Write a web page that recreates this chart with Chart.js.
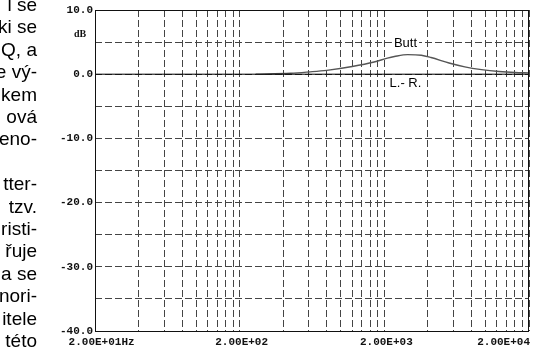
<!DOCTYPE html>
<html>
<head>
<meta charset="utf-8">
<script src="https://cdn.jsdelivr.net/npm/chart.js@4"></script>
<style>
  html, body { margin: 0; padding: 0; background: #fff; overflow: hidden; }
  #wrap { position: absolute; left: 0; top: 0; width: 536px; height: 351px; }
  #text {
    position: absolute; left: -163px; top: -6px; width: 200px;
    font-family: "Liberation Sans", Arial, sans-serif; font-size: 19px; line-height: 22.4px;
    text-align: right; white-space: pre; color: #000;
  }
</style>
</head>
<body>
<div id="wrap"><canvas id="chart" width="536" height="351"></canvas></div>
<div id="text">l se
ki se
Q, a
e vý-
kem
ová
eno-

tter-
tzv.
risti-
řuje
a se
nori-
itele
této</div>
<script>
// frekvence a hodnoty krivky (dB)
const buttFreq = [258, 450, 600, 800, 1200, 1700, 2100, 2350, 2900, 3600, 4200, 5600, 7200, 9400, 12400, 16000, 20000];
const buttDb = [0, 0.15, 0.35, 0.6, 1.2, 1.9, 2.5, 2.75, 3.05, 2.95, 2.6, 1.75, 1.15, 0.72, 0.42, 0.26, 0.2];
const lrFreq = [20, 20000];
const lrDb = [0, 0];

// mrizka a popisky os
const gridFreq = [20, 40, 60, 80, 100, 120, 140, 160, 180, 200, 400, 600, 800, 1000, 1200, 1400, 1600, 1800,
    2000, 4000, 6000, 8000, 10000, 12000, 14000, 16000, 18000, 20000];
const xLabelFreq = [20, 200, 2000, 20000];
const xLabelText = ['2.00E+01Hz', '2.00E+02', '2.00E+03', '2.00E+04'];

const curveNames = [
    { text: 'Butt', f: 2800, db: 4.8, box: true },
    { text: 'L.- R.', f: 2800, db: -1.45, box: false }
];

const pts = (xs, ys) => xs.map((x, i) => ({ x: x, y: ys[i] }));

const decorPlugin = {
    id: 'decor',
    afterDatasetsDraw(chart) {
        const ctx = chart.ctx;
        const a = chart.chartArea;
        const xs = chart.scales.x;
        const ys = chart.scales.y;
        ctx.save();
        // ramecek
        ctx.strokeStyle = '#111';
        ctx.lineWidth = 1;
        ctx.strokeRect(Math.round(a.left) + 0.5, Math.round(a.top) + 0.5,
            Math.round(a.right - a.left) - 1, Math.round(a.bottom - a.top));

        // nazvy krivek
        ctx.font = '13px Arial, "Liberation Sans", sans-serif';
        ctx.textAlign = 'center';
        ctx.textBaseline = 'middle';
        curveNames.forEach(n => {
            const px = xs.getPixelForValue(n.f);
            const py = ys.getPixelForValue(n.db);
            const w = ctx.measureText(n.text).width;
            if (n.box) {
                ctx.fillStyle = '#fff';
                ctx.fillRect(px - w / 2 - 2, py - 6, w + 4, 12);
            }
            ctx.fillStyle = '#000';
            ctx.fillText(n.text, px, py);
        });

        // popisky osy x
        ctx.font = 'bold 11px "Liberation Mono", "Courier New", monospace';
        ctx.fillStyle = '#111';
        xLabelFreq.forEach((f, i) => {
            const px = xs.getPixelForValue(f);
            const t = xLabelText[i];
            if (i === 0) {
                ctx.textAlign = 'left';
                ctx.fillText(t, px - ctx.measureText('2.00E+01').width / 2, 342);
            } else if (i === xLabelFreq.length - 1) {
                ctx.textAlign = 'right';
                ctx.fillText(t, a.right + 1, 342);
            } else {
                ctx.textAlign = 'center';
                ctx.fillText(t, px + 2, 342);
            }
        });

        // jednotka
        ctx.font = 'bold 10px "Liberation Serif", serif';
        ctx.textAlign = 'center';
        ctx.fillText('dB', 80, 34);
        ctx.restore();
    }
};

new Chart(document.getElementById('chart').getContext('2d'), {
    type: 'line',
    data: {
        datasets: [
            {
                label: 'L.- R.',
                data: pts(lrFreq, lrDb),
                borderColor: '#000',
                borderWidth: 1,
                pointRadius: 0,
                tension: 0
            },
            {
                label: 'Butt',
                data: pts(buttFreq, buttDb),
                borderColor: '#555',
                borderWidth: 1.4,
                pointRadius: 0,
                cubicInterpolationMode: 'monotone'
            }
        ]
    },
    options: {
        responsive: false,
        animation: false,
        events: [],
        layout: { padding: { top: 10, right: 7, bottom: 20, left: 0 } },
        plugins: { legend: { display: false }, tooltip: { enabled: false } },
        scales: {
            x: {
                type: 'logarithmic',
                min: 20,
                max: 20000,
                afterBuildTicks: s => { s.ticks = gridFreq.map(v => ({ value: v })); },
                ticks: { display: false },
                grid: { color: '#444', lineWidth: 1, drawTicks: false },
                border: { display: false, dash: [7, 3] }
            },
            y: {
                min: -40,
                max: 10,
                afterFit: s => { s.width = 95; },
                ticks: {
                    stepSize: 5,
                    padding: 2,
                    color: '#111',
                    font: { family: '"Liberation Mono", "Courier New", monospace', size: 11, weight: 'bold' },
                    callback: v => (v % 10 === 0 ? v.toFixed(1) : '')
                },
                grid: { color: '#444', lineWidth: 1, drawTicks: false },
                border: { display: false, dash: [7, 3] }
            }
        }
    },
    plugins: [decorPlugin]
});
</script>
</body>
</html>
